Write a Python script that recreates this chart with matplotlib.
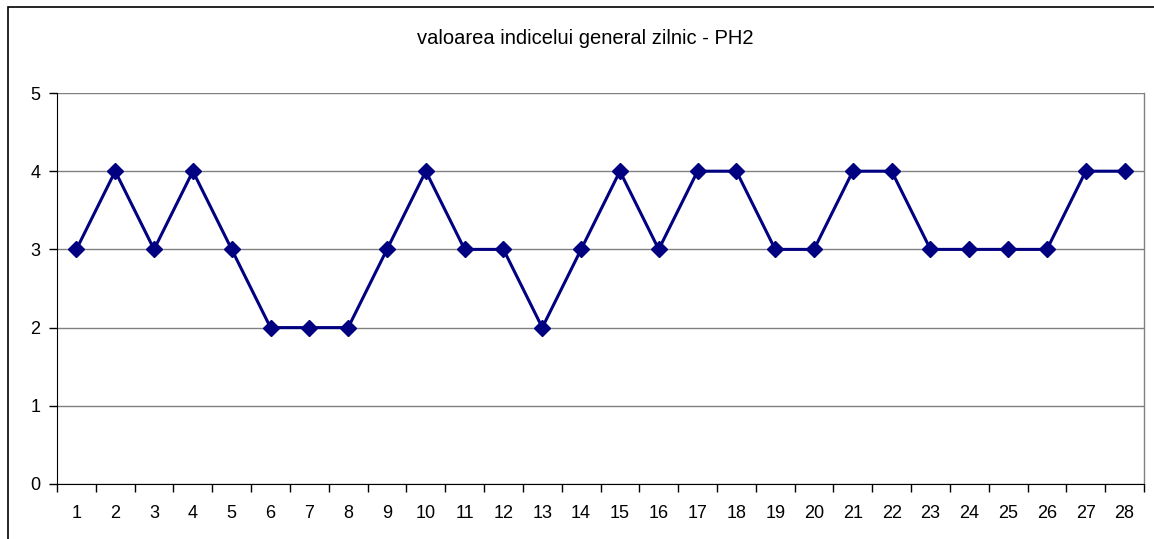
import matplotlib
matplotlib.use("Agg")
import matplotlib.pyplot as plt
from matplotlib.patches import Rectangle
import numpy as np

days = [str(i) for i in range(1, 29)]
values = [3, 4, 3, 4, 3, 2, 2, 2, 3, 4, 3, 3, 2, 3, 4, 3, 4, 4, 3, 3, 4, 4, 3, 3, 3, 3, 4, 4]
yticks = [0, 1, 2, 3, 4, 5]
title = "valoarea indicelui general zilnic - PH2"

plt.rcParams['font.family'] = ['Liberation Sans', 'DejaVu Sans']

W, H = 1154, 539
fig = plt.figure(figsize=(W / 100, H / 100), dpi=100)
fig.patch.set_facecolor('white')

# outer chart border
fig.add_artist(Rectangle((7.5 / W, -0.1), 1.2, 1 - 6.5 / H + 0.1, transform=fig.transFigure,
                         fill=False, edgecolor='black', linewidth=1.2))

left, right, top, bottom = 57, 1144, 93, 484
ax = fig.add_axes([left / W, (H - bottom) / H, (right - left) / W, (bottom - top) / H])

x = np.arange(len(values))
ax.plot(x, values, color='#000080', linewidth=2.2, marker='D', markersize=8,
        markerfacecolor='#000080', markeredgecolor='#000080', zorder=3, clip_on=False)

ax.set_xlim(-0.5, len(values) - 0.5)
ax.set_ylim(0, 5)
ax.set_yticks(yticks)
ax.set_yticklabels([str(v) for v in yticks], fontsize=13)
ax.set_xticks(np.arange(-0.5, len(values), 1.0))
ax.set_xticklabels([])
ax.set_xticks(x, minor=True)
ax.set_xticklabels(days, minor=True, fontsize=13)
ax.tick_params(axis='x', which='minor', length=0, pad=15)
ax.tick_params(axis='x', which='major', length=6, width=1, direction='out', color='black')
ax.tick_params(axis='y', length=6, width=1, direction='out', pad=6)

ax.grid(axis='y', color='#808080', linewidth=1)
ax.set_axisbelow(True)
for s in ['top', 'right']:
    ax.spines[s].set_color('#808080')
    ax.spines[s].set_linewidth(1)
ax.spines['top'].set_visible(False)
ax.spines['left'].set_color('black')
ax.spines['bottom'].set_color('black')

fig.text(585 / W, 1 - 38 / H, title, ha='center', va='center', fontsize=14.5)

fig.savefig('out.png', dpi=100)
